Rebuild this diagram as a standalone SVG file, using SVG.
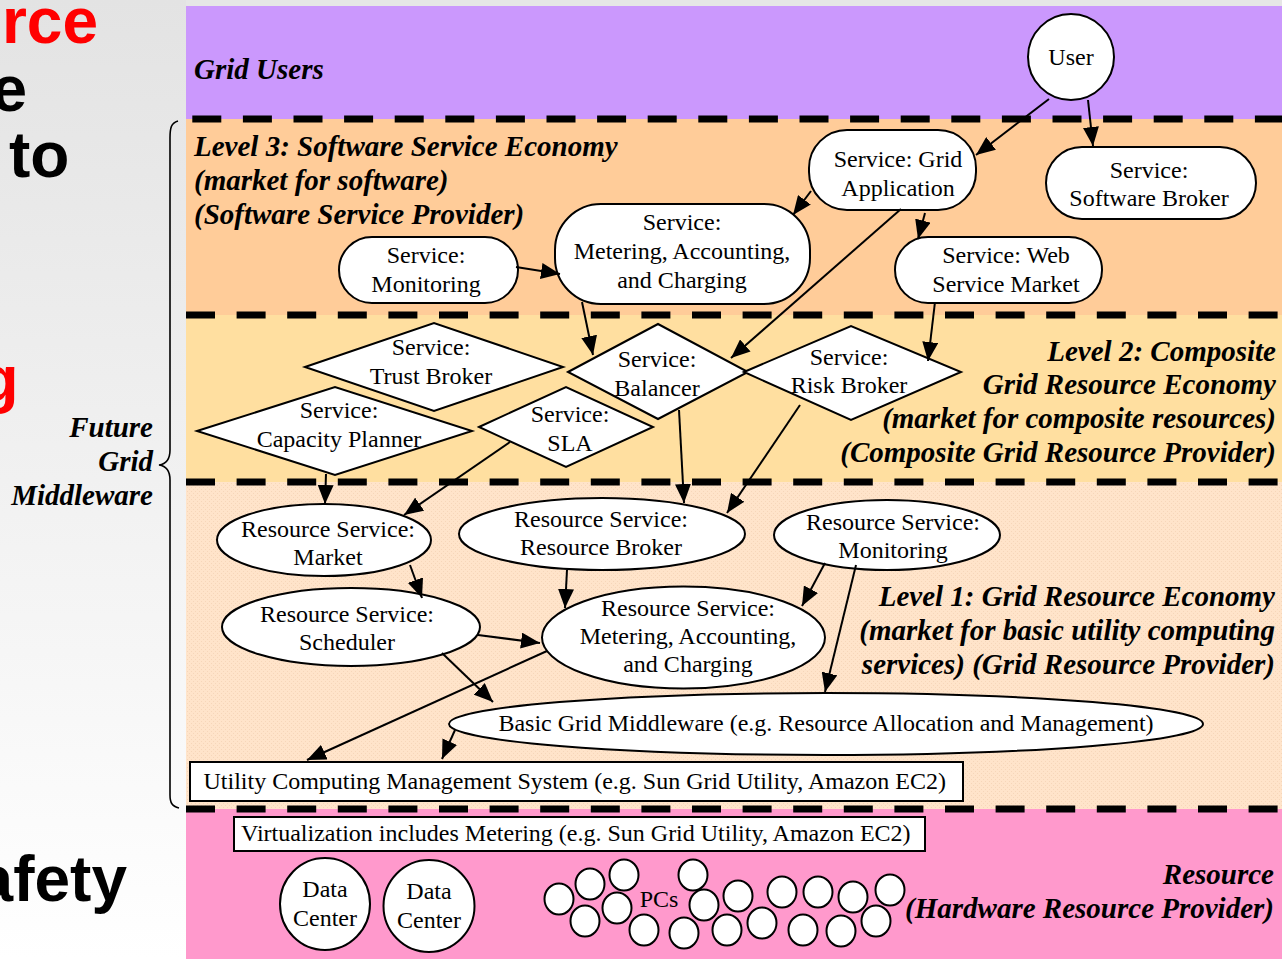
<svg xmlns="http://www.w3.org/2000/svg" width="1282" height="959" viewBox="0 0 1282 959">
<style>
.hdr{font-family:"Liberation Serif","Times New Roman",serif;font-weight:bold;font-style:italic;font-size:29px;fill:#000}
.nt{font-family:"Liberation Serif","Times New Roman",serif;font-size:24px;fill:#000;text-anchor:middle}
.slide{font-family:"Liberation Sans",Arial,sans-serif;font-weight:bold;font-size:64px}
.node{fill:#fff;stroke:#000;stroke-width:2}
.pc{fill:#fff;stroke:#000;stroke-width:2}
.dash{stroke:#000;stroke-width:7;stroke-dasharray:29 21.6}
.edge{stroke:#000;stroke-width:2;fill:none;marker-end:url(#ah)}
</style>
<defs>
<linearGradient id="bg" x1="0" y1="0" x2="0" y2="1">
<stop offset="0" stop-color="#e3e3e3"/>
<stop offset="1" stop-color="#ffffff"/>
</linearGradient>
<pattern id="dots" width="4" height="4" patternUnits="userSpaceOnUse">
<rect width="4" height="4" fill="#ffe4ca"/>
<rect x="1" y="1" width="1" height="1" fill="#f6d6b9"/>
<rect x="3" y="3" width="1" height="1" fill="#f6d6b9"/>
</pattern>
<marker id="ah" markerUnits="userSpaceOnUse" markerWidth="20" markerHeight="16" refX="19" refY="8" orient="auto">
<path d="M0,0 L19,8 L0,16 z" fill="#000"/>
</marker>
</defs>

<!-- background -->
<rect x="0" y="0" width="1282" height="959" fill="url(#bg)"/>
<rect x="186" y="0" width="1096" height="6" fill="#e6e6e6"/>

<!-- slide remnants (cropped in the original picture) -->
<g id="slide-text">
<text class="slide" x="98" y="43" text-anchor="end" fill="#ff0000">rce</text>
<text class="slide" x="27" y="111" text-anchor="end" fill="#000">e</text>
<text class="slide" x="9" y="177" fill="#000">to</text>
<text class="slide" x="18.5" y="401" text-anchor="end" fill="#ff0000">g</text>
<text class="slide" x="127" y="901" text-anchor="end" fill="#000">afety</text>
</g>

<!-- bands -->
<g id="bands">
<rect x="186" y="6" width="1096" height="113" fill="#cb98fd"/>
<rect x="186" y="119" width="1096" height="196" fill="#ffcc99"/>
<rect x="186" y="315" width="1096" height="167" fill="#ffdfa0"/>
<rect x="186" y="482" width="1096" height="327" fill="url(#dots)"/>
<rect x="186" y="809" width="1096" height="150" fill="#ff99cc"/>
<line class="dash" x1="192.3" y1="119" x2="1282" y2="119"/>
<line class="dash" x1="186" y1="315" x2="1282" y2="315"/>
<line class="dash" x1="186" y1="482" x2="1282" y2="482"/>
<line class="dash" x1="186" y1="809" x2="1282" y2="809"/>
</g>

<!-- brace and label -->
<g id="future-grid-middleware">
<path d="M178,121 C171,123 170,128 170,138 L170,450 C170,460 166,464 159,465 C166,466 170,470 170,480 L170,795 C170,803 172,806 179,808" fill="none" stroke="#000" stroke-width="1.6"/>
<text class="hdr" text-anchor="end" x="153" y="437">Future</text>
<text class="hdr" text-anchor="end" x="153" y="471">Grid</text>
<text class="hdr" text-anchor="end" x="153" y="505">Middleware</text>
</g>

<!-- band labels -->
<g id="band-labels">
<text class="hdr" x="194" y="79">Grid Users</text>
<text class="hdr" x="194" y="156">Level 3: Software Service Economy</text>
<text class="hdr" x="194" y="190">(market for software)</text>
<text class="hdr" x="194" y="224">(Software Service Provider)</text>
<text class="hdr" text-anchor="end" x="1276" y="361">Level 2: Composite</text>
<text class="hdr" text-anchor="end" x="1276" y="394">Grid Resource Economy</text>
<text class="hdr" text-anchor="end" x="1276" y="428">(market for composite resources)</text>
<text class="hdr" text-anchor="end" x="1276" y="462">(Composite Grid Resource Provider)</text>
<text class="hdr" text-anchor="end" x="1275" y="606">Level 1: Grid Resource Economy</text>
<text class="hdr" text-anchor="end" x="1275" y="640">(market for basic utility computing</text>
<text class="hdr" text-anchor="end" x="1275" y="674">services) (Grid Resource Provider)</text>
<text class="hdr" text-anchor="end" x="1274" y="884">Resource</text>
<text class="hdr" text-anchor="end" x="1274" y="918">(Hardware Resource Provider)</text>
</g>

<!-- Grid users -->
<g id="user">
<ellipse class="node" cx="1071" cy="57" rx="43" ry="43"/>
<text class="nt" x="1071" y="65">User</text>
</g>

<!-- Level 3 -->
<g id="svc-grid-application">
<rect class="node" x="809" y="130" width="167" height="80" rx="38" ry="38"/>
<text class="nt" x="898" y="167">Service: Grid</text>
<text class="nt" x="898" y="196">Application</text>
</g>
<g id="svc-software-broker">
<rect class="node" x="1046" y="147" width="210" height="72" rx="36" ry="36"/>
<text class="nt" x="1149" y="178">Service:</text>
<text class="nt" x="1149" y="206">Software Broker</text>
</g>
<g id="svc-web-service-market">
<rect class="node" x="895" y="237" width="207" height="66" rx="33" ry="33"/>
<text class="nt" x="1006" y="263">Service: Web</text>
<text class="nt" x="1006" y="292">Service Market</text>
</g>
<g id="svc-monitoring">
<rect class="node" x="339" y="237" width="179" height="66" rx="33" ry="33"/>
<text class="nt" x="426" y="263">Service:</text>
<text class="nt" x="426" y="292">Monitoring</text>
</g>
<g id="svc-metering">
<rect class="node" x="555" y="204" width="255" height="100" rx="46" ry="46"/>
<text class="nt" x="682" y="230">Service:</text>
<text class="nt" x="682" y="259">Metering, Accounting,</text>
<text class="nt" x="682" y="288">and Charging</text>
</g>

<!-- Level 2 -->
<g id="svc-trust-broker">
<polygon class="node" points="305,367 434,323 563,367 434,411"/>
<text class="nt" x="431" y="355">Service:</text>
<text class="nt" x="431" y="384">Trust Broker</text>
</g>
<g id="svc-capacity-planner">
<polygon class="node" points="197,431 335,387 472,431 335,475"/>
<text class="nt" x="339" y="418">Service:</text>
<text class="nt" x="339" y="447">Capacity Planner</text>
</g>
<g id="svc-sla">
<polygon class="node" points="479,427 566,387 653,427 566,467"/>
<text class="nt" x="570" y="422">Service:</text>
<text class="nt" x="570" y="451">SLA</text>
</g>
<g id="svc-balancer">
<polygon class="node" points="568,372 658,324 748,372 658,419"/>
<text class="nt" x="657" y="367">Service:</text>
<text class="nt" x="657" y="396">Balancer</text>
</g>
<g id="svc-risk-broker">
<polygon class="node" points="744,372 851,326 961,372 851,420"/>
<text class="nt" x="849" y="365">Service:</text>
<text class="nt" x="849" y="393">Risk Broker</text>
</g>

<!-- Level 1 -->
<g id="res-market">
<ellipse class="node" cx="324" cy="540" rx="107" ry="36"/>
<text class="nt" x="328" y="537">Resource Service:</text>
<text class="nt" x="328" y="565">Market</text>
</g>
<g id="res-resource-broker">
<ellipse class="node" cx="602" cy="534" rx="143" ry="36"/>
<text class="nt" x="601" y="527">Resource Service:</text>
<text class="nt" x="601" y="555">Resource Broker</text>
</g>
<g id="res-monitoring">
<ellipse class="node" cx="887" cy="535" rx="113" ry="35"/>
<text class="nt" x="893" y="530">Resource Service:</text>
<text class="nt" x="893" y="558">Monitoring</text>
</g>
<g id="res-scheduler">
<ellipse class="node" cx="351" cy="627" rx="129" ry="39"/>
<text class="nt" x="347" y="622">Resource Service:</text>
<text class="nt" x="347" y="650">Scheduler</text>
</g>
<g id="res-metering">
<ellipse class="node" cx="683.5" cy="637.5" rx="141.5" ry="51"/>
<text class="nt" x="688" y="616">Resource Service:</text>
<text class="nt" x="688" y="644">Metering, Accounting,</text>
<text class="nt" x="688" y="672">and Charging</text>
</g>
<g id="basic-grid-middleware">
<ellipse class="node" cx="826" cy="724" rx="377" ry="31"/>
<text class="nt" x="826" y="731">Basic Grid Middleware (e.g. Resource Allocation and Management)</text>
</g>
<g id="utility-computing-ms">
<rect class="node" x="190" y="762" width="773" height="39"/>
<text class="nt" x="203.5" y="789" style="text-anchor:start">Utility Computing Management System (e.g. Sun Grid Utility, Amazon EC2)</text>
</g>

<!-- Resource layer -->
<g id="virtualization">
<rect class="node" x="234" y="817" width="691" height="34" stroke-width="1.6"/>
<text class="nt" x="241" y="841" style="text-anchor:start">Virtualization includes Metering (e.g. Sun Grid Utility, Amazon EC2)</text>
</g>
<g id="data-center-1">
<ellipse class="node" cx="325" cy="904" rx="45" ry="46"/>
<text class="nt" x="325" y="897">Data</text>
<text class="nt" x="325" y="926">Center</text>
</g>
<g id="data-center-2">
<ellipse class="node" cx="429" cy="906" rx="45.5" ry="46"/>
<text class="nt" x="429" y="899">Data</text>
<text class="nt" x="429" y="928">Center</text>
</g>
<g id="pcs">
<ellipse class="pc" cx="559" cy="899" rx="14.5" ry="15.5"/>
<ellipse class="pc" cx="590" cy="884" rx="14.5" ry="15.5"/>
<ellipse class="pc" cx="624" cy="875" rx="14.5" ry="15.5"/>
<ellipse class="pc" cx="617" cy="908" rx="14.5" ry="15.5"/>
<ellipse class="pc" cx="585" cy="921" rx="14.5" ry="15.5"/>
<ellipse class="pc" cx="644" cy="930" rx="14.5" ry="15.5"/>
<ellipse class="pc" cx="693" cy="875" rx="14.5" ry="15.5"/>
<ellipse class="pc" cx="704" cy="905" rx="14.5" ry="15.5"/>
<ellipse class="pc" cx="684" cy="933" rx="14.5" ry="15.5"/>
<ellipse class="pc" cx="738" cy="896" rx="14.5" ry="15.5"/>
<ellipse class="pc" cx="727" cy="930" rx="14.5" ry="15.5"/>
<ellipse class="pc" cx="762" cy="923" rx="14.5" ry="15.5"/>
<ellipse class="pc" cx="782" cy="892" rx="14.5" ry="15.5"/>
<ellipse class="pc" cx="818" cy="892" rx="14.5" ry="15.5"/>
<ellipse class="pc" cx="803" cy="930" rx="14.5" ry="15.5"/>
<ellipse class="pc" cx="853" cy="897" rx="14.5" ry="15.5"/>
<ellipse class="pc" cx="841" cy="931" rx="14.5" ry="15.5"/>
<ellipse class="pc" cx="876" cy="921" rx="14.5" ry="15.5"/>
<ellipse class="pc" cx="890" cy="890" rx="14.5" ry="15.5"/>
<text class="nt" x="659" y="907">PCs</text>
</g>

<!-- connectors -->
<g id="connectors">
<path class="edge" d="M1049,99 L976,155"/>
<path class="edge" d="M1088,100 L1093,146"/>
<path class="edge" d="M811,191 L793,215"/>
<path class="edge" d="M925,213 L918,239"/>
<path class="edge" d="M901,209 L731,358"/>
<path class="edge" d="M516,267 L560,274"/>
<path class="edge" d="M582,302 L593,355"/>
<path class="edge" d="M935,302 L928,361"/>
<path class="edge" d="M326,474 L325,504"/>
<path class="edge" d="M510,442 L404,515"/>
<path class="edge" d="M679,410 L684,503"/>
<path class="edge" d="M800,405 L727,513"/>
<path class="edge" d="M410,565 L422,598"/>
<path class="edge" d="M567,570 L565,608"/>
<path class="edge" d="M825,563 L802,606"/>
<path class="edge" d="M856,565 L825,692"/>
<path class="edge" d="M478,635 L540,643"/>
<path class="edge" d="M442,653 L493,702"/>
<path class="edge" d="M547,651 L307,760"/>
<path class="edge" d="M455,730 L442,759"/>
</g>
</svg>
